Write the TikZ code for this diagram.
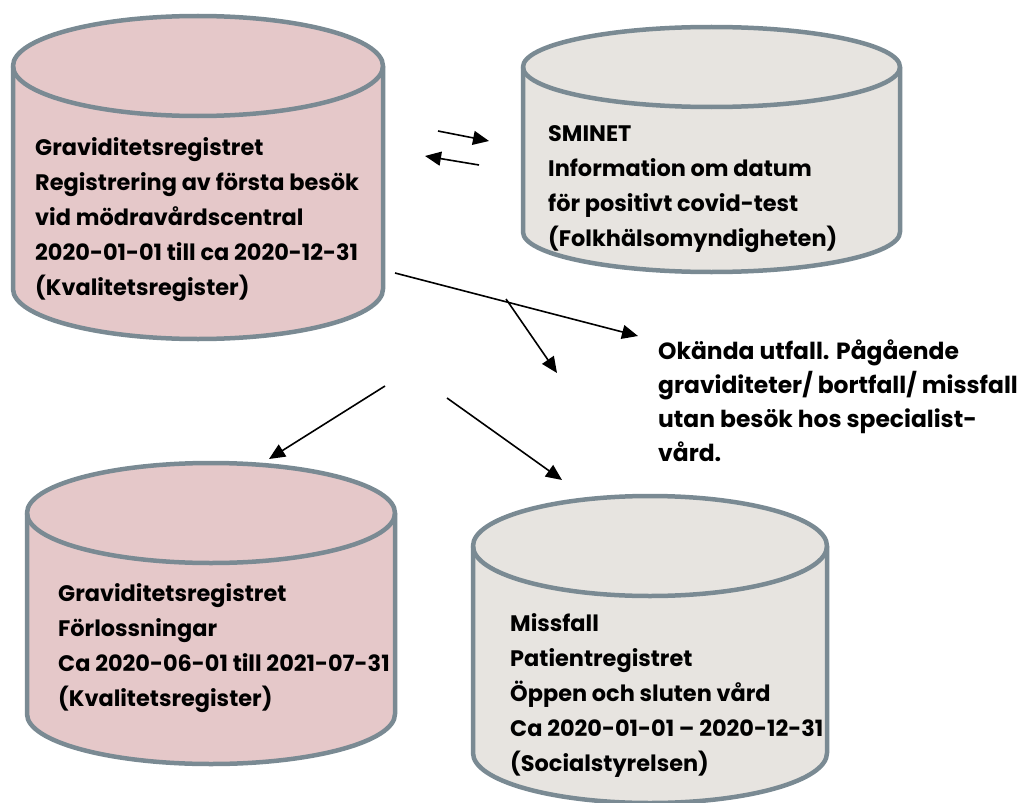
\documentclass[tikz,border=0pt]{standalone}
\usepackage{fontspec}
\setmainfont{Poppins}
\usetikzlibrary{arrows.meta}
\definecolor{rim}{HTML}{7A8A93}
\definecolor{rosa}{HTML}{E5C8C9}
\definecolor{sand}{HTML}{E7E4E0}
% cylinder: left, right, top centre y, bottom centre y, y radius, fill
\newcommand{\drum}[6]{%
  \filldraw[rim line, fill=#6] (#1,#3) -- (#1,#4)
    arc[start angle=180, end angle=0, x radius={(#2-#1)/2}, y radius=#5]
    -- (#2,#3)
    arc[start angle=0, end angle=-180, x radius={(#2-#1)/2}, y radius=#5] -- cycle;
  \draw[rim line] (#1,#3) arc[start angle=180, end angle=0, x radius={(#2-#1)/2}, y radius=#5];
}
\begin{document}
\begin{tikzpicture}[x=1bp, y=-1bp,
    rim line/.style={draw=rim, line width=4.5bp, line join=round},
    dbtext/.style={anchor=north west, align=left, inner sep=0pt,
      font=\fontsize{22.5}{35}\selectfont\bfseries},
    flow/.style={-{Triangle[length=16bp,width=14bp]}, line width=1.6bp}]
  \useasboundingbox (0,0) rectangle (1023,803);
  % the four registers
  \drum{13}{383}{66}{289}{50}{rosa}
  \drum{523}{900}{67}{232}{40}{sand}
  \drum{27}{395}{513}{714}{50}{rosa}
  \drum{473}{827}{546}{753}{50}{sand}
  % texts
  \node[dbtext] (grav1) at (35,137.5) {Graviditetsregistret\\Registrering av första besök\\vid mödravårdscentral\\2020-01-01 till ca 2020-12-31\\(Kvalitetsregister)};
  \node[dbtext] (sminet) at (548,125.5) {SMINET\\Information om datum\\för positivt covid-test\\(Folkhälsomyndigheten)};
  \node[dbtext] (grav2) at (58,583.5) {Graviditetsregistret\\Förlossningar\\Ca 2020-06-01 till 2021-07-31\\(Kvalitetsregister)};
  \node[dbtext] (missfall) at (510,613.5) {Missfall\\Patientregistret\\Öppen och sluten vård\\Ca 2020-01-01 – 2020-12-31\\(Socialstyrelsen)};
  \node[dbtext, font=\fontsize{23.5}{34}\selectfont\bfseries] (okanda) at (658,340) {Okända utfall. Pågående\\graviditeter/ bortfall/ missfall\\utan besök hos specialist-\\vård.};
  % arrows
  \coordinate (toS) at (438,131);   \coordinate (toE) at (489,141);
  \coordinate (backS) at (479,165); \coordinate (backE) at (425,156);
  \coordinate (okS) at (395,273);   \coordinate (okE) at (638,336);
  \coordinate (midS) at (506,299);  \coordinate (midE) at (557,373);
  \coordinate (leftS) at (385,386); \coordinate (leftE) at (269,459);
  \coordinate (rightS) at (447,398); \coordinate (rightE) at (562,480);
  \draw[flow] (toS) -- (toE);
  \draw[flow] (backS) -- (backE);
  \draw[flow] (okS) -- (okE);
  \draw[flow] (midS) -- (midE);
  \draw[flow] (leftS) -- (leftE);
  \draw[flow] (rightS) -- (rightE);
\end{tikzpicture}
\end{document}
